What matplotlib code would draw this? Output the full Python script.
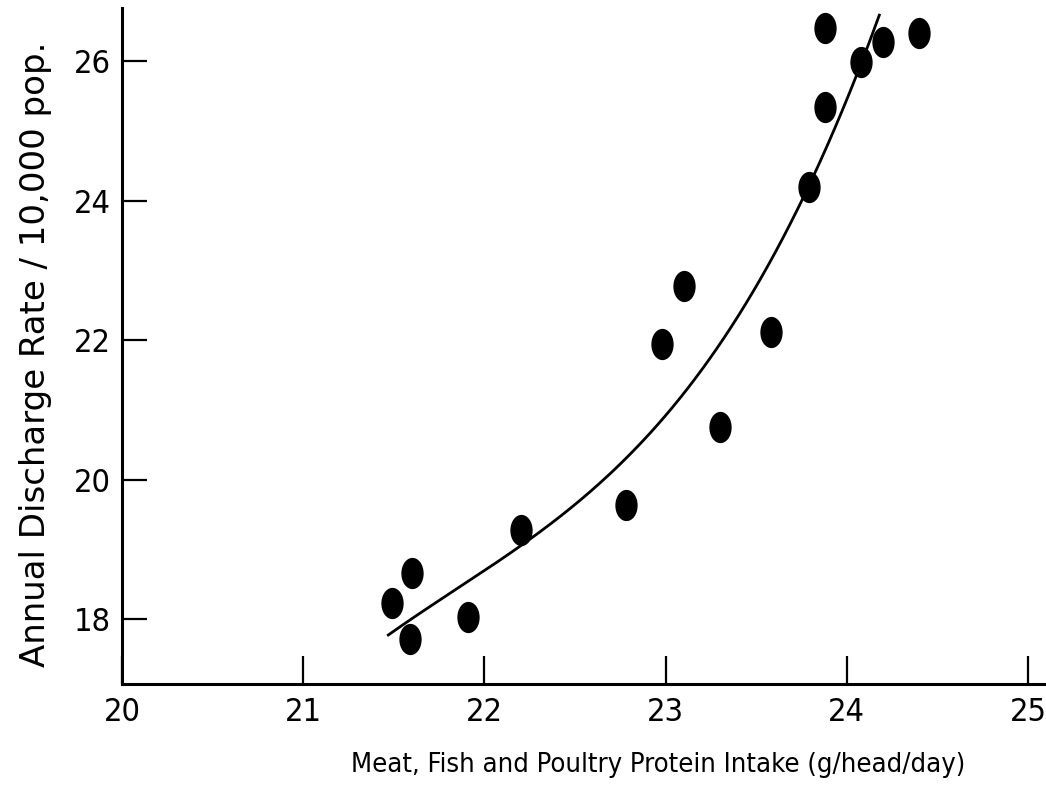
import matplotlib
matplotlib.use("Agg")
import matplotlib.pyplot as plt
from matplotlib import font_manager
import numpy as np
from matplotlib.path import Path
from matplotlib.transforms import Affine2D

# Protein intake (g/head/day) vs annual discharge rate per 10,000 population
intake = [21.49, 21.60, 21.59, 21.91, 22.20, 22.78, 22.98, 23.10,
          23.30, 23.58, 23.79, 23.88, 23.88, 24.08, 24.20, 24.40]
discharge = [18.23, 18.66, 17.71, 18.03, 19.28, 19.63, 21.94, 22.77,
             20.75, 22.11, 24.19, 25.34, 26.47, 25.99, 26.27, 26.40]

# Points along the trend curve
curve_x = [21.47, 21.69, 21.96, 22.14, 22.27, 22.39, 22.61, 22.83, 23.01,
           23.16, 23.42, 23.60, 23.76, 23.83, 23.90, 24.05, 24.18]
curve_y = [17.83, 18.13, 18.56, 18.89, 19.18, 19.45, 19.95, 20.47, 20.97,
           21.43, 22.39, 23.25, 23.94, 24.41, 24.87, 25.77, 26.69]

x_ticks = [20, 21, 22, 23, 24, 25]
y_ticks = [18, 20, 22, 24, 26]

# pick a narrow face for the numbers and x title if one is around
fonts = font_manager.fontManager.ttflist
names = {f.name for f in fonts}
if 'Liberation Sans Narrow' in names:
    narrow = dict(family='Liberation Sans Narrow')
    scale = 1.0
elif any(f.name == 'DejaVu Sans' and 'ondensed' in str(f.stretch) + f.fname
         for f in fonts):
    narrow = dict(family='DejaVu Sans', stretch='condensed')
    scale = 0.9
else:
    narrow = dict(family='Liberation Sans')
    scale = 0.85

fig = plt.figure(figsize=(10.46, 7.99), dpi=100)
ax = fig.add_axes([0.1166, 0.1439, 0.8834, 0.8461])

# slightly tall elliptical dots
dot = Path.unit_circle().transformed(Affine2D().scale(0.7, 1.0))
ax.plot(intake, discharge, linestyle='none', marker=dot, markersize=21.5,
        color='black')

# smooth the trend curve with a cubic through its sampled points
coef = np.polyfit(curve_x, curve_y, 3)
xs = np.linspace(curve_x[0], curve_x[-1], 200)
ax.plot(xs, np.polyval(coef, xs), color='black', linewidth=2.0)

ax.set_xlim(20, 25.1)
ax.set_ylim(17.07, 26.76)

for side in ('top', 'right'):
    ax.spines[side].set_visible(False)
for side in ('left', 'bottom'):
    ax.spines[side].set_linewidth(2.2)

ax.set_xticks(x_ticks)
ax.set_yticks(y_ticks)
ax.set_xticklabels([str(t) for t in x_ticks], fontsize=26 * scale, **narrow)
ax.set_yticklabels([str(t) for t in y_ticks], fontsize=26 * scale, **narrow)
ax.tick_params(axis='x', direction='in', length=20, width=1.6, pad=9)
ax.tick_params(axis='y', direction='in', length=18, width=1.6, pad=8)

fig.text(0.629, 0.043, 'Meat, Fish and Poultry Protein Intake (g/head/day)',
         fontsize=21.8 * scale, ha='center', va='center', **narrow)
fig.text(0.034, 0.557, 'Annual Discharge Rate / 10,000 pop.',
         family='DejaVu Sans', fontsize=24.5, rotation=90,
         ha='center', va='center')

fig.savefig('out.png', dpi=100)
